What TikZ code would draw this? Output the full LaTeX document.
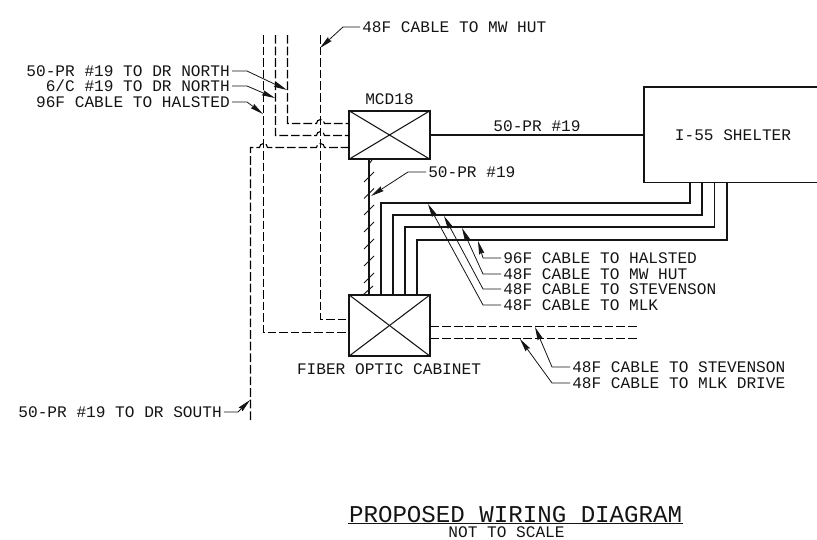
\documentclass[tikz,border=0pt]{standalone}
\usepackage{fontspec}
\usepackage{tikz}
\usetikzlibrary{arrows.meta,calc,positioning}
\setmonofont{Liberation Mono}
\definecolor{CadInk}{RGB}{20,20,20}
\def\px{0.75pt}
\tikzset{
  cadlabel/.style={font=\ttfamily\fontsize{12.1}{12.1}\selectfont, text=CadInk, inner sep=1.5pt, text height=8pt, text depth=0pt},
  cadbox/.style={draw=CadInk, line width=1pt, rectangle, inner sep=0pt, minimum width=81*\px},
  wire/.style={draw=CadInk, line width=0.8pt},
  dashwire/.style={draw=black, line width=0.85pt, dash pattern=on 6.5pt off 2.2pt},
  leader/.style={draw=CadInk, line width=0.6pt, -{Stealth[length=10pt,width=4pt,inset=1pt]}},
}
\begin{document}
\begin{tikzpicture}[x=0.75pt,y=-0.75pt]
\useasboundingbox (0,0) rectangle (817,539);
\node[cadbox, minimum height=48*\px] (mcd) at (389.5,135) {};
\node[cadbox, minimum height=61*\px] (cabinet) at (389.5,325.5) {};
\node[cadbox, minimum width=178*\px, minimum height=95.5*\px, label={[cadlabel]center:I-55 SHELTER}] (shelter) at (733,134.7) {};
\foreach \b in {mcd,cabinet} {
  \draw[wire] (\b.north west) -- (\b.south east);
  \draw[wire] (\b.south west) -- (\b.north east);
}
\node[cadlabel] (mcdname) at (389.5,99) {MCD18};
\node[cadlabel] (cabname) at (389,369) {FIBER OPTIC CABINET};

\coordinate (topA) at (263.5,35);
\coordinate (topB) at (275.5,35);
\coordinate (topC) at (287.5,35);
\coordinate (topD) at (320.5,35);
\coordinate (southend) at (250.5,420);
\draw[dashwire] (topC) -- (287.5,123.5) -- (316.5,123.5) arc[start angle=180,end angle=360,radius=4] -- (349,123.5);
\draw[dashwire] (topB) -- (275.5,135.5) -- (316.5,135.5) arc[start angle=180,end angle=360,radius=4] -- (349,135.5);
\draw[dashwire] (southend) -- (250.5,147.5) -- (259.5,147.5) arc[start angle=180,end angle=360,radius=4] -- (316.5,147.5) arc[start angle=180,end angle=360,radius=4] -- (349,147.5);
\draw[dashwire, line width=0.95pt] (topA) -- (263.5,332.5) -- (349,332.5);
\draw[dashwire] (topD) -- (320.5,319.5) -- (349,319.5);
\draw[dashwire] (cabinet.east |- 0,326.5) -- (637,326.5);
\draw[dashwire] (cabinet.east |- 0,338.5) -- (637,338.5);

\draw[wire] (mcd.east) -- (shelter.west |- mcd.east) node[cadlabel, pos=0.5, above=0.5pt] (prlabel) {50-PR \#19};
\draw[wire] (369,159) -- (369,295);
\foreach \y in {177,193.5,210,227,244,261,278} {
  \draw[wire, line width=0.7pt] (364,\y+5) -- (374,\y-5);
}
\draw[wire, line width=0.7pt] (369,164) -- (372,160);
\draw[wire, line width=0.7pt] (363,295) -- (373,286);

\draw[wire] (690,182) -- (690,203) -- (381,203) -- (381,295);
\draw[wire] (702,182) -- (702,215) -- (393,215) -- (393,295);
\draw[wire] (714.5,182) -- (714.5,227) -- (405,227) -- (405,295);
\draw[wire] (727,182) -- (727,240) -- (417,240) -- (417,295);

\node[cadlabel, anchor=east] (lblnorthpr) at (232,71) {50-PR \#19 TO DR NORTH};
\node[cadlabel, anchor=east] (lblnorthc) at (232,86) {6/C \#19 TO DR NORTH};
\node[cadlabel, anchor=east] (lblhalsted) at (232,102) {96F CABLE TO HALSTED};
\node[cadlabel, anchor=west] (lblhut) at (360,27) {48F CABLE TO MW HUT};
\node[cadlabel, anchor=west] (lblpr) at (426,172) {50-PR \#19};
\node[cadlabel, anchor=east] (lblsouth) at (224,412) {50-PR \#19 TO DR SOUTH};
\node[cadlabel, anchor=west] (lblbundleA) at (501,258) {96F CABLE TO HALSTED};
\node[cadlabel, anchor=west] (lblbundleB) at (501,274) {48F CABLE TO MW HUT};
\node[cadlabel, anchor=west] (lblbundleC) at (501,289) {48F CABLE TO STEVENSON};
\node[cadlabel, anchor=west] (lblbundleD) at (501,305) {48F CABLE TO MLK};
\node[cadlabel, anchor=west] (lblstev) at (570,367) {48F CABLE TO STEVENSON};
\node[cadlabel, anchor=west] (lblmlk) at (570,383) {48F CABLE TO MLK DRIVE};

\coordinate (tipnorthpr) at (287,90);
\coordinate (tipnorthc) at (275,98);
\coordinate (tiphalsted) at (263,114);
\coordinate (tiphut) at (320,48);
\coordinate (tippr) at (371,196);
\coordinate (tipsouth) at (250,400);
\coordinate (tipA) at (478,241);
\coordinate (tipB) at (462,228);
\coordinate (tipC) at (444,216);
\coordinate (tipD) at (428,204);
\coordinate (tipstev) at (535,327);
\coordinate (tipmlk) at (520,339);
\draw[leader] (lblnorthpr.east) -- ++(15,0) -- (tipnorthpr);
\draw[leader] (lblnorthc.east) -- ++(15,0) -- (tipnorthc);
\draw[leader] (lblhalsted.east) -- ++(15,0) -- (tiphalsted);
\draw[leader] (lblhut.west) -- ++(-17,0) -- (tiphut);
\draw[leader] (lblpr.west) -- ++(-18,0) -- (tippr);
\draw[leader] (lblsouth.east) -- ++(14,0) -- (tipsouth);
\draw[leader] (lblbundleA.west) -- ++(-18,0) -- (tipA);
\draw[leader] (lblbundleB.west) -- ++(-18,0) -- (tipB);
\draw[leader] (lblbundleC.west) -- ++(-18,0) -- (tipC);
\draw[leader] (lblbundleD.west) -- ++(-18,0) -- (tipD);
\draw[leader] (lblstev.west) -- ++(-18,0) -- (tipstev);
\draw[leader] (lblmlk.west) -- ++(-18,0) -- (tipmlk);

\node[cadlabel, font=\ttfamily\fontsize{18.1}{18.1}\selectfont, text height=12pt, inner sep=0.6pt, anchor=west] (title) at (348,514) {PROPOSED WIRING DIAGRAM};
\draw[wire] (title.south west) -- (title.south east);
\node[cadlabel, inner sep=0pt] (subtitle) at (506.5,532.4) {NOT TO SCALE};
\end{tikzpicture}
\end{document}
